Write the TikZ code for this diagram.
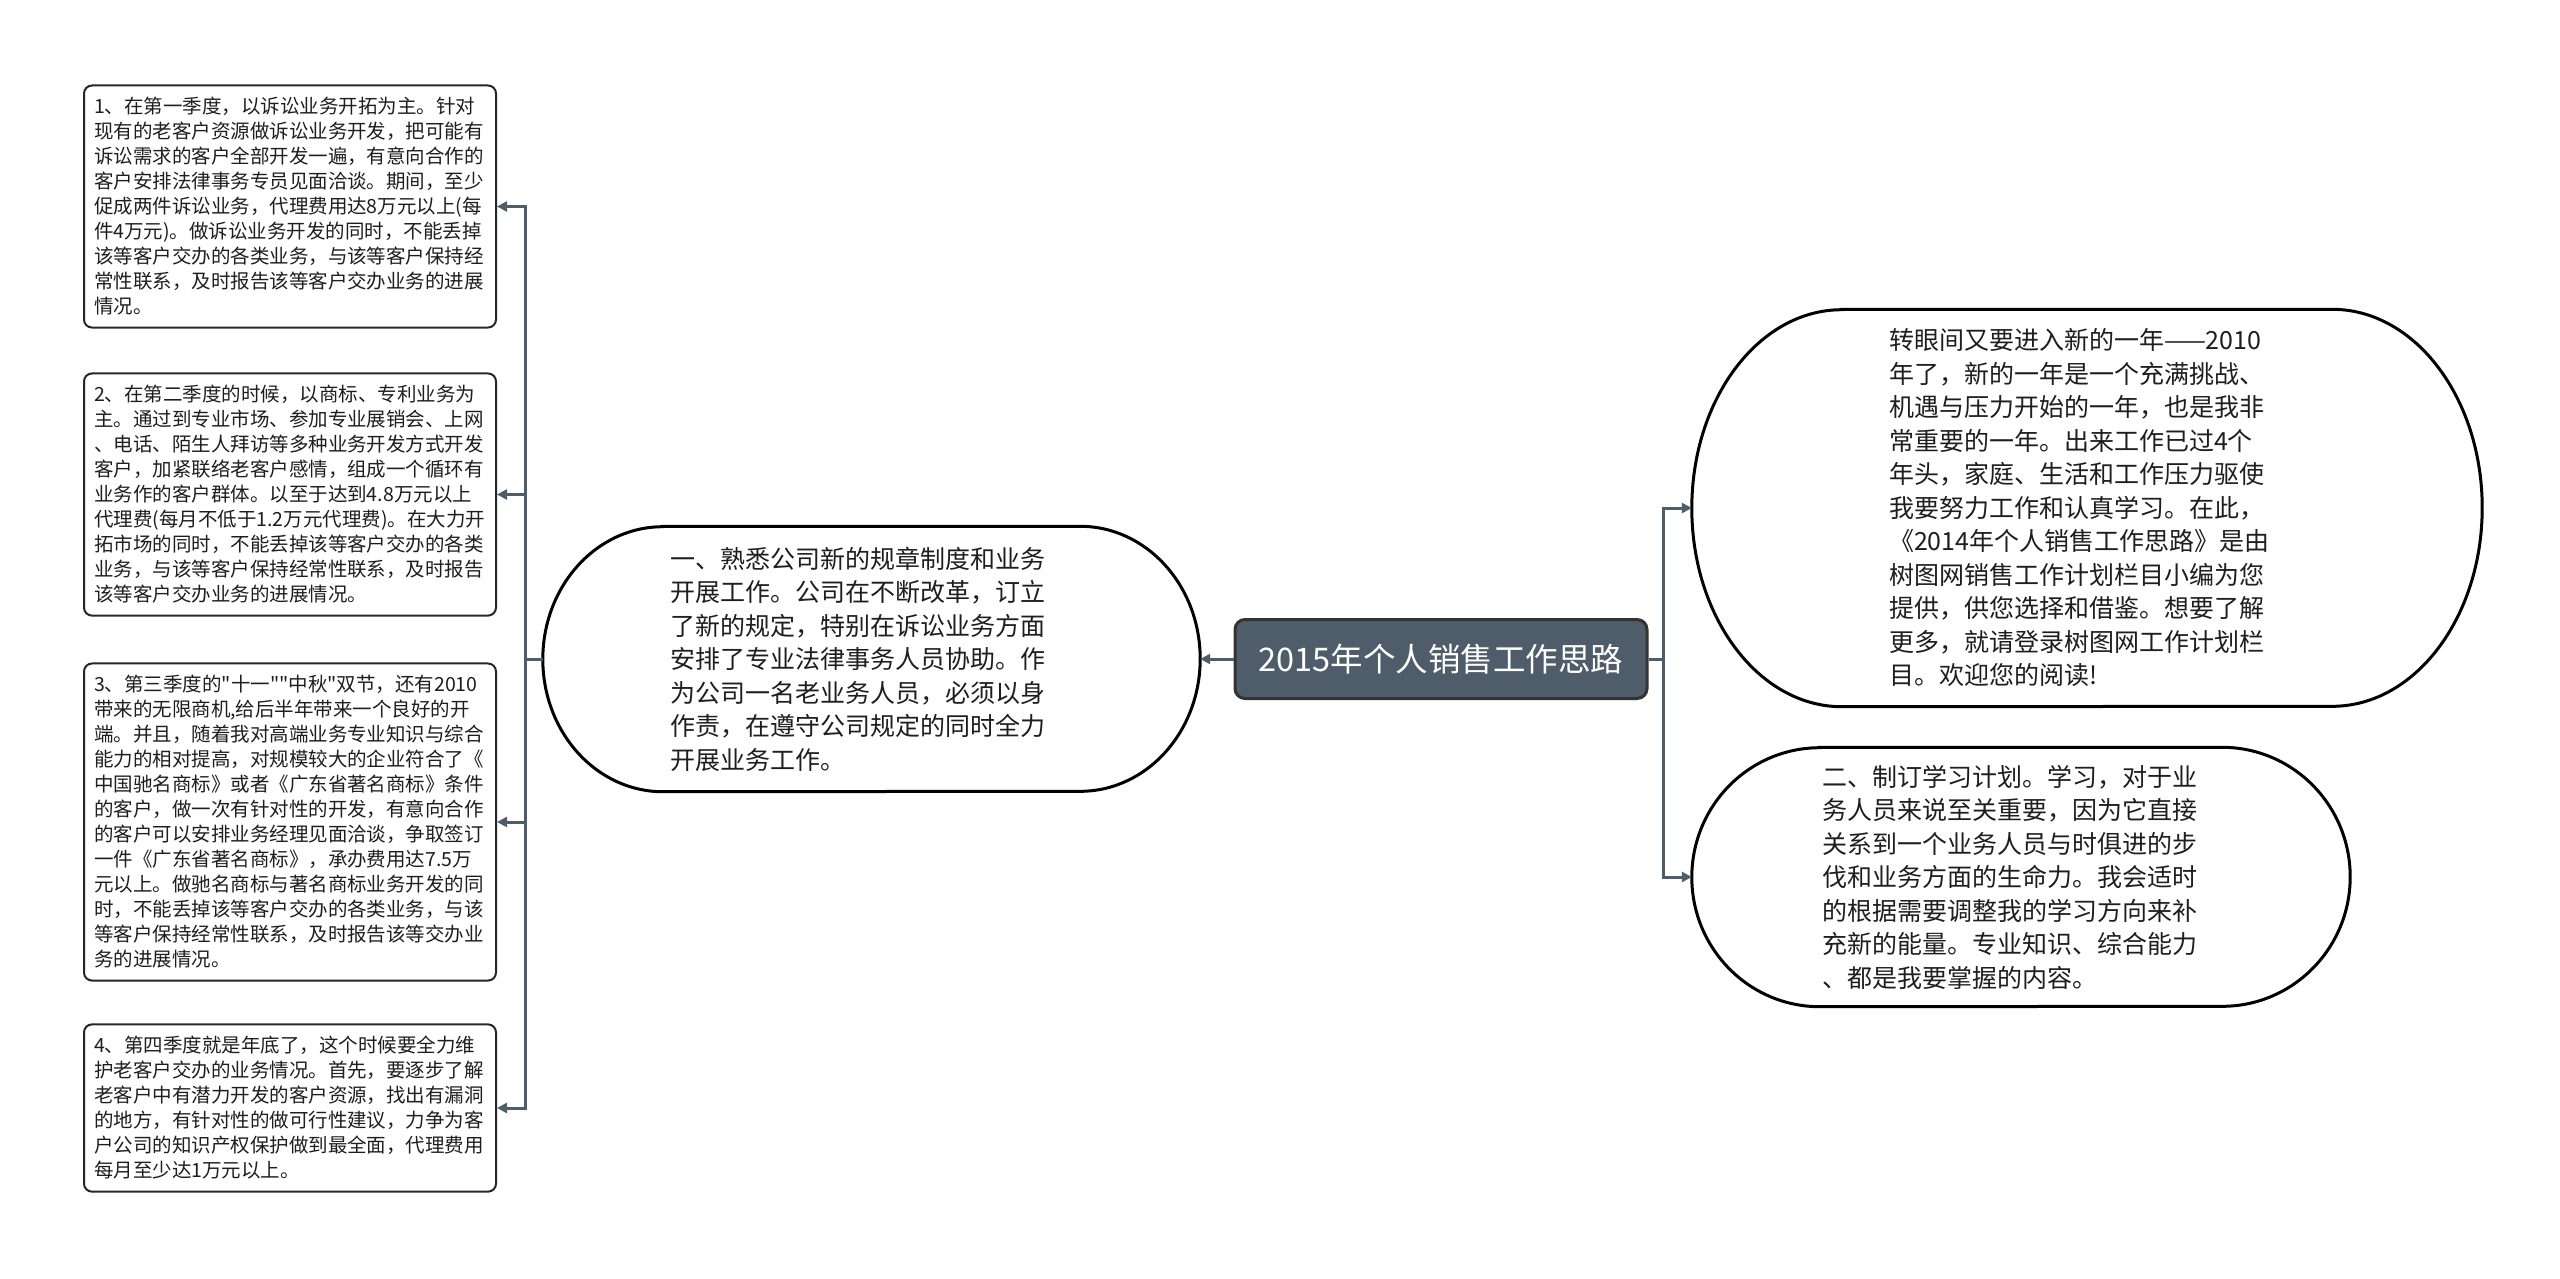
\documentclass[tikz,border=0pt]{standalone}
\usepackage{fontspec}
\newfontfamily\cjkf{Noto Sans CJK SC}
\usetikzlibrary{arrows.meta,calc}
\definecolor{slate}{HTML}{4F5D6B}
\definecolor{txt}{HTML}{1E1E1E}
\newcommand\mystadium[3]{%
  \draw[stadline] ([xshift=#2]#1.north west) -- ([xshift=-#2]#1.north east)
    arc[start angle=90,end angle=-90,x radius=#2,y radius=#3]
    -- ([xshift=#2]#1.south west)
    arc[start angle=270,end angle=90,x radius=#2,y radius=#3] -- cycle;}
\tikzset{
  lbox/.style={draw=black!85, line width=2pt, rounded corners=8pt, fill=white, text=txt,
    text width=392pt, inner xsep=10pt, inner ysep=12pt, align=left, anchor=west,
    font=\cjkf\fontsize{19.5pt}{25pt}\selectfont},
  etext/.style={text=txt, align=left, inner sep=0pt,
    font=\cjkf\fontsize{25pt}{33.5pt}\selectfont},
  conn/.style={draw=slate, line width=3pt},
  tip/.style={-{Triangle[length=10pt,width=10pt]}},
  stadline/.style={draw=black, line width=3pt},
  central/.style={fill=slate, draw=black!80, line width=3pt, rounded corners=10pt,
    text=white, font=\cjkf\fontsize{32.5pt}{36pt}\selectfont,
    minimum width=412pt, minimum height=79pt, inner sep=0pt}
}
\begin{document}
\begin{tikzpicture}[x=1pt,y=-1pt]
\fill[white] (0,0) rectangle (2560,1278);
\useasboundingbox (0,0) rectangle (2560,1278);

% left boxes
\node[lbox] (b1) at (83,206.5) {1、在第一季度，以诉讼业务开拓为主。针对\\现有的老客户资源做诉讼业务开发，把可能有\\诉讼需求的客户全部开发一遍，有意向合作的\\客户安排法律事务专员见面洽谈。期间，至少\\促成两件诉讼业务，代理费用达8万元以上(每\\件4万元)。做诉讼业务开发的同时，不能丢掉\\该等客户交办的各类业务，与该等客户保持经\\常性联系，及时报告该等客户交办业务的进展\\情况。};
\node[lbox] (b2) at (83,494.5) {2、在第二季度的时候，以商标、专利业务为\\主。通过到专业市场、参加专业展销会、上网\\、电话、陌生人拜访等多种业务开发方式开发\\客户，加紧联络老客户感情，组成一个循环有\\业务作的客户群体。以至于达到4.8万元以上\\代理费(每月不低于1.2万元代理费)。在大力开\\拓市场的同时，不能丢掉该等客户交办的各类\\业务，与该等客户保持经常性联系，及时报告\\该等客户交办业务的进展情况。};
\node[lbox] (b3) at (83,822) {3、第三季度的"十一""中秋"双节，还有2010\\带来的无限商机,给后半年带来一个良好的开\\端。并且，随着我对高端业务专业知识与综合\\能力的相对提高，对规模较大的企业符合了《\\中国驰名商标》或者《广东省著名商标》条件\\的客户，做一次有针对性的开发，有意向合作\\的客户可以安排业务经理见面洽谈，争取签订\\一件《广东省著名商标》，承办费用达7.5万\\元以上。做驰名商标与著名商标业务开发的同\\时，不能丢掉该等客户交办的各类业务，与该\\等客户保持经常性联系，及时报告该等交办业\\务的进展情况。};
\node[lbox] (b4) at (83,1108) {4、第四季度就是年底了，这个时候要全力维\\护老客户交办的业务情况。首先，要逐步了解\\老客户中有潜力开发的客户资源，找出有漏洞\\的地方，有针对性的做可行性建议，力争为客\\户公司的知识产权保护做到最全面，代理费用\\每月至少达1万元以上。};

% first-level nodes
\node[etext, text width=402pt, minimum width=657pt, minimum height=265pt] (n1) at (871.5,659) {一、熟悉公司新的规章制度和业务\\开展工作。公司在不断改革，订立\\了新的规定，特别在诉讼业务方面\\安排了专业法律事务人员协助。作\\为公司一名老业务人员，必须以身\\作责，在遵守公司规定的同时全力\\开展业务工作。};
\mystadium{n1}{120pt}{132.5pt}

\node[central] (c) at (1441,659) {2015年个人销售工作思路};

\node[etext, text width=396pt, minimum width=790pt, minimum height=397pt] (e1) at (2087,508) {转眼间又要进入新的一年——2010\\年了，新的一年是一个充满挑战、\\机遇与压力开始的一年，也是我非\\常重要的一年。出来工作已过4个\\年头，家庭、生活和工作压力驱使\\我要努力工作和认真学习。在此，\\《2014年个人销售工作思路》是由\\树图网销售工作计划栏目小编为您\\提供，供您选择和借鉴。想要了解\\更多，就请登录树图网工作计划栏\\目。欢迎您的阅读!};
\mystadium{e1}{150pt}{198.5pt}

\node[etext, text width=398pt, minimum width=658pt, minimum height=259pt] (e2) at (2021,877) {二、制订学习计划。学习，对于业\\务人员来说至关重要，因为它直接\\关系到一个业务人员与时俱进的步\\伐和业务方面的生命力。我会适时\\的根据需要调整我的学习方向来补\\充新的能量。专业知识、综合能力\\、都是我要掌握的内容。};
\mystadium{e2}{128pt}{129.5pt}

% connectors
\draw[conn,tip] (c.west) -- (n1.east);
\foreach \b in {b1,b2,b3,b4}{
  \draw[conn,tip] (n1.west) -- ++(-17,0) |- (\b.east);
}
\foreach \e in {e1,e2}{
  \draw[conn,tip] (c.east) -- ++(15,0) |- (\e.west);
}
\end{tikzpicture}
\end{document}
